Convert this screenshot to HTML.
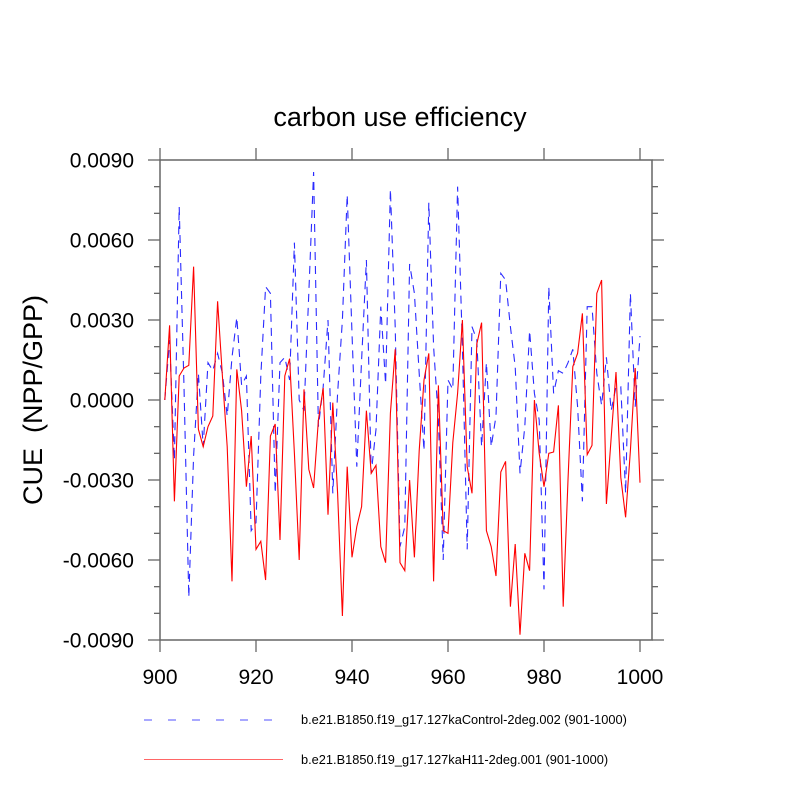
<!DOCTYPE html>
<html><head><meta charset="utf-8"><style>
body{margin:0;background:#fff}
svg{display:block}
text{font-family:"Liberation Sans",sans-serif;fill:#000}
</style></head><body>
<svg id="chart" width="800" height="800" viewBox="0 0 800 800">
<text x="400" y="126" font-size="27" text-anchor="middle">carbon use efficiency</text>
<text transform="translate(42,400) rotate(-90)" font-size="27" text-anchor="middle" xml:space="preserve">CUE  (NPP/GPP)</text>
<g id="axes"></g>
<g id="series"></g>
<g>
<line x1="144" y1="720" x2="276" y2="720" stroke="#5050ff" stroke-width="1" stroke-dasharray="8,16"/>
<text x="301" y="724" font-size="12.8">b.e21.B1850.f19_g17.127kaControl-2deg.002 (901-1000)</text>
<rect x="144" y="759" width="139" height="1" fill="#ff0000" fill-opacity="0.6"/>
<text x="301" y="764" font-size="12.8">b.e21.B1850.f19_g17.127kaH11-2deg.001 (901-1000)</text>
</g>
</svg>
<script>
const years = Array.from({length:100},(_,i)=>901+i);
const controlValues = [0,2.25,-2.25,7.25,0.5,-7.4,-2.1,1.0,-1.75,1.4,1.1,1.75,1.0,-0.6,1.6,3.1,0.55,0.9,-4.9,-4.6,0.9,4.25,4.0,-3.5,1.4,1.6,
0.75,5.9,0,-0.4,4.0,8.55,-1.0,0.5,3.0,-3.5,0.25,3.0,7.7,2.5,-2.5,1.5,5.25,-2.75,-1.1,3.5,0.6,7.9,2.75,-5.5,-4.75,5.1,
4.0,1.0,-1.9,7.4,2.0,-0.75,-6.0,0.75,0.4,8.0,2.0,-5.6,2.75,2.25,-1.75,1.4,-1.75,-0.6,4.75,4.5,2.75,1.25,-2.75,-1.0,2.6,0.25,
-0.75,-7.1,4.25,0.25,1.1,1.0,1.4,1.9,-0.25,-3.8,3.5,3.5,1.0,-0.2,1.6,-0.4,0.5,0.5,-3.5,4.0,-0.25,2.4];
const h11Values = [0,2.8,-3.8,0.9,1.2,1.3,5.0,-1.1,-1.75,-1.0,-0.6,3.7,0.9,-1.75,-6.8,1.15,-0.4,-3.25,-1.35,-5.6,-5.3,-6.75,-1.35,-0.9,-5.25,0.9,
1.55,-2.0,-6.0,0.4,-2.6,-3.3,-0.75,0.45,-4.3,-0.1,-3.5,-8.1,-2.5,-5.9,-4.75,-4.0,-0.4,-2.75,-2.45,-5.5,-6.1,-0.5,1.9,-6.1,-6.4,-3.0,
-5.9,-1.9,0.75,1.75,-6.8,0.55,-4.9,-5.0,-1.6,0.25,3.0,-2.5,-3.5,2.1,2.9,-4.9,-5.5,-6.6,-2.7,-2.3,-7.75,-5.4,-8.8,-5.75,-6.4,0,
-2.0,-3.25,-2.0,-1.95,-0.2,-7.75,-3.0,1.25,1.75,3.25,-2.05,-1.7,4.0,4.5,-3.9,-1.4,1.05,-2.9,-4.4,-1.9,1.2,-3.1];
const xTicks = [900,920,940,960,980,1000];
const yTicks = [0.009,0.006,0.003,0,-0.003,-0.006,-0.009];
const yTickLabels = ["0.0090","0.0060","0.0030","0.0000","-0.0030","-0.0060","-0.0090"];

const L=160,R=652,T=160,B=640;
const xs = y => L + (y-900)*4.8;
const ys = v => 400 - v/0.018*480;
const NS='http://www.w3.org/2000/svg';
function mk(tag,attrs,parent){const e=document.createElementNS(NS,tag);for(const k in attrs)e.setAttribute(k,attrs[k]);parent.appendChild(e);return e;}
const ax=document.getElementById('axes');
const frame=mk('rect',{x:L,y:T,width:R-L,height:B-T,fill:'none',stroke:'#666','stroke-width':1.5},ax);


for(let k=-9;k<=9;k++){
  const v=k*0.001, y=ys(v), major=(k%3===0), len=major?12:6;
  const t1=mk('line',{x1:L-len,y1:y,x2:L,y2:y,stroke:'#666','stroke-width':1.3},ax);
  
  
  const t2=mk('line',{x1:R,y1:y,x2:R+len,y2:y,stroke:'#666','stroke-width':1.3},ax);
  
  
}
yTicks.forEach((v,i)=>{
  const t=mk('text',{x:134,y:ys(v)+7.5,'font-size':21,'text-anchor':'end'},ax);
  t.textContent=yTickLabels[i];
  
  
});
xTicks.forEach(yr=>{
  const x=xs(yr);
  const t1=mk('line',{x1:x,y1:B,x2:x,y2:B+12,stroke:'#666','stroke-width':1.3},ax);
  
  
  const t2=mk('line',{x1:x,y1:T-12,x2:x,y2:T,stroke:'#666','stroke-width':1.3},ax);
  
  
  const t=mk('text',{x:x,y:684,'font-size':21,'text-anchor':'middle'},ax);
  t.textContent=String(yr);
  
  
});
const sg=document.getElementById('series');
const pc=mk('polyline',{points:years.map((y,i)=>xs(y)+','+ys(controlValues[i]/1000)).join(' '),fill:'none',stroke:'#2a2aff','stroke-width':1.1,'stroke-dasharray':'8,6'},sg);


const ph=mk('polyline',{points:years.map((y,i)=>xs(y)+','+ys(h11Values[i]/1000)).join(' '),fill:'none',stroke:'#ff0000','stroke-width':1.1},sg);


</script>
</body></html>
